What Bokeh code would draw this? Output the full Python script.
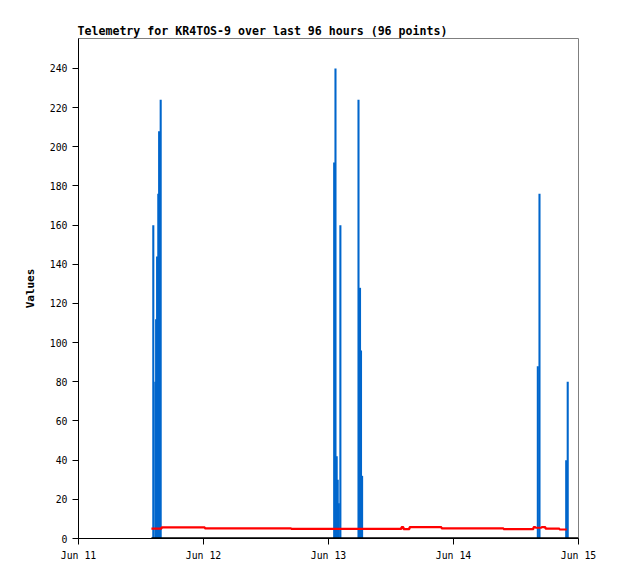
import pandas as pd
from bokeh.plotting import figure
from bokeh.models import Range1d, FixedTicker, DatetimeTickFormatter
from bokeh.embed import file_html
from bokeh.resources import INLINE

# ---- data (hours after Jun 11 00:00) ----
base = pd.Timestamp("2023-06-11 00:00")

blue_hours = [14.36, 14.75, 14.90, 15.09, 15.32, 15.48, 15.78,
              49.09, 49.34, 49.57, 49.77, 49.98, 50.28,
              53.76, 54.05, 54.24, 54.45,
              88.19, 88.51,
              93.64, 93.93]
blue_values = [160, 80, 112, 144, 176, 208, 224,
               192, 240, 42, 30, 18, 160,
               224, 128, 96, 32,
               88, 176,
               40, 80]

red_hours = [14.0, 15.94, 24.25, 40.84, 62.0, 62.4, 63.55, 69.7, 81.6,
             87.36, 87.74, 88.9, 89.66, 92.35, 93.75]
red_values = [5.0, 5.7, 5.2, 4.9, 5.8, 4.8, 5.8, 5.2, 4.8,
              5.8, 5.5, 5.8, 5.0, 4.6, 4.6]

black_hours = [14.0, 96.0]
black_values = [0, 0]

day_ticks = ["2023-06-11", "2023-06-12", "2023-06-13", "2023-06-14", "2023-06-15"]
y_ticks = [0, 20, 40, 60, 80, 100, 120, 140, 160, 180, 200, 220, 240]


def to_dt(hours):
    return [base + pd.Timedelta(hours=h) for h in hours]


def ms(ts):
    return pd.Timestamp(ts).value / 1e6


FONT = "DejaVu Sans Mono"

p = figure(width=610, height=571, output_backend="svg", toolbar_location=None,
           x_axis_type="datetime",
           x_range=Range1d(ms(day_ticks[0]), ms(day_ticks[-1])),
           y_range=Range1d(0, 255.3),
           frame_width=500, frame_height=500,
           min_border_left=78, min_border_right=32,
           min_border_top=38, min_border_bottom=33)

p.title.text = "Telemetry for KR4TOS-9 over last 96 hours (96 points)"
p.title.text_font = FONT
p.title.text_font_size = "11.6px"
p.title.text_font_style = "bold"
p.title.text_color = "black"
p.title.align = "left"
p.title.offset = -1
p.title.standoff = 2

p.xgrid.visible = False
p.ygrid.visible = False
p.outline_line_color = "#7f7f7f"
p.outline_line_width = 1
p.background_fill_color = "white"
p.border_fill_color = "white"

# blue impulses
p.vbar(x=to_dt(blue_hours), top=blue_values, bottom=0,
       width=0.4 * 3600 * 1000, color="#0066CC", line_color=None)
# red line
p.step(x=to_dt(red_hours), y=red_values, mode="after",
       line_color="#FF0000", line_width=2.2)
# black line at zero
p.line(x=to_dt(black_hours), y=black_values, line_color="#000000", line_width=2.5)

# axes
p.xaxis.ticker = FixedTicker(ticks=[ms(d) for d in day_ticks])
p.xaxis.formatter = DatetimeTickFormatter(days="%b %d", months="%b %d",
                                          hours="%b %d", years="%b %d")
p.yaxis.ticker = FixedTicker(ticks=y_ticks)
p.xaxis.minor_tick_line_color = None
p.yaxis.minor_tick_line_color = None
for ax in (p.xaxis[0], p.yaxis[0]):
    ax.major_tick_in = 0
    ax.major_tick_out = 6
    ax.axis_line_color = "black"
    ax.major_tick_line_color = "black"
    ax.major_label_text_font = FONT
    ax.major_label_text_font_size = "9.8px"
    ax.major_label_text_color = "black"
    ax.major_label_standoff = 5

p.yaxis.axis_label = "Values"
p.yaxis.axis_label_text_font = FONT
p.yaxis.axis_label_text_font_size = "11px"
p.yaxis.axis_label_text_font_style = "bold"
p.yaxis.axis_label_text_color = "black"
p.yaxis.axis_label_standoff = 10

open("out.html", "w").write(file_html(p, INLINE))
